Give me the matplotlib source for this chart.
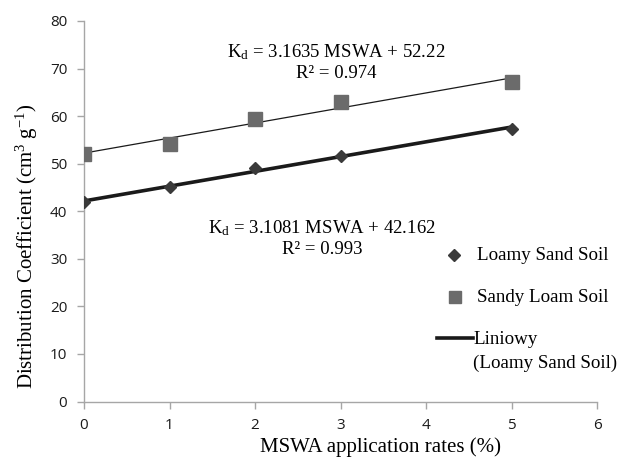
import matplotlib
matplotlib.use("Agg")
import matplotlib.pyplot as plt
from matplotlib.lines import Line2D
import numpy as np

plt.rcParams['mathtext.fontset'] = 'custom'
plt.rcParams['mathtext.rm'] = 'Liberation Serif'
plt.rcParams['mathtext.it'] = 'Liberation Serif:italic'

rates = [0, 1, 2, 3, 5]
loamy_sand = [41.9, 45.0, 49.0, 51.7, 57.3]
sandy_loam = [52.1, 54.2, 59.3, 62.9, 67.2]
loamy_fit = (3.1081, 42.162)
sandy_fit = (3.1635, 52.22)
x_ticks = [0, 1, 2, 3, 4, 5, 6]
y_ticks = [0, 10, 20, 30, 40, 50, 60, 70, 80]
legend_labels = ['Loamy Sand Soil', 'Sandy Loam Soil', 'Liniowy', '(Loamy Sand Soil)']

serif = 'Liberation Serif'
sans = 'Open Sans'
W, H = 623, 461

def fx(px):
    return px / W

def fy(py):
    return 1 - py / H

fig = plt.figure(figsize=(6.23, 4.61), dpi=100)
ax = fig.add_axes([84 / W, (H - 401.5) / H, 513 / W, 380.5 / H])

xs = np.array([rates[0], rates[-1]])
ax.plot(xs, loamy_fit[0] * xs + loamy_fit[1], color='#1a1a1a', lw=2.6, zorder=2)
ax.plot(xs, sandy_fit[0] * xs + sandy_fit[1], color='#1a1a1a', lw=0.9, zorder=2)
ax.plot(rates, loamy_sand, 'D', color='#3a3a3a', ms=6.5, ls='none', zorder=3)
ax.plot(rates, sandy_loam, 's', color='#6b6b6b', ms=10.5, ls='none', zorder=3)

ax.set_xlim(0, 6)
ax.set_ylim(0, 80)
ax.set_xticks(x_ticks)
ax.set_yticks(y_ticks)
for s in ['top', 'right']:
    ax.spines[s].set_visible(False)
for s in ['left', 'bottom']:
    ax.spines[s].set_color('#a6a6a6')
    ax.spines[s].set_linewidth(1.0)
ax.tick_params(colors='#a6a6a6', length=5, width=1.0, labelcolor='#1a1a1a', labelsize=11)
for lab in ax.get_xticklabels() + ax.get_yticklabels():
    lab.set_fontfamily(sans)
ax.tick_params(axis='x', pad=7)
ax.tick_params(axis='y', pad=7)

ax.set_xlabel('MSWA application rates (%)', fontfamily=serif, fontsize=15)
ax.xaxis.set_label_coords((380 - 84) / 513, (401.5 - 447) / 380.5)
ax.xaxis.label.set_va('center')
ax.set_ylabel('Distribution Coefficient (cm$^3$ g$^{-1}$)', fontfamily=serif, fontsize=15)
ax.yaxis.set_label_coords((27 - 84) / 513, (401.5 - 246) / 380.5)
ax.yaxis.label.set_va('center')

fs = 13.5
fig.text(fx(336), fy(57), 'K$_\\mathrm{d}$ = %.4f MSWA + %.2f' % sandy_fit,
         fontfamily=serif, fontsize=fs, ha='center', va='baseline')
fig.text(fx(336), fy(78), 'R² = 0.974', fontfamily=serif, fontsize=fs, ha='center', va='baseline')
fig.text(fx(322), fy(233), 'K$_\\mathrm{d}$ = %.4f MSWA + %.3f' % loamy_fit,
         fontfamily=serif, fontsize=fs, ha='center', va='baseline')
fig.text(fx(322), fy(254), 'R² = 0.993', fontfamily=serif, fontsize=fs, ha='center', va='baseline')

# legend (manual)
lfs = 13.7
fig.add_artist(Line2D([fx(454)], [fy(255)], marker='D', color='#3a3a3a', ms=6, ls='none'))
fig.add_artist(Line2D([fx(455)], [fy(297)], marker='s', color='#6b6b6b', ms=8.5, ls='none'))
fig.add_artist(Line2D([fx(437), fx(473)], [fy(338), fy(338)], color='#1a1a1a', lw=2.6))
fig.text(fx(477), fy(255), legend_labels[0], fontfamily=serif, fontsize=lfs, ha='left', va='center')
fig.text(fx(477), fy(297), legend_labels[1], fontfamily=serif, fontsize=lfs, ha='left', va='center')
fig.text(fx(473), fy(339), legend_labels[2], fontfamily=serif, fontsize=lfs, ha='left', va='center')
fig.text(fx(473), fy(363), legend_labels[3], fontfamily=serif, fontsize=lfs, ha='left', va='center')

fig.savefig('out.png', dpi=100)
